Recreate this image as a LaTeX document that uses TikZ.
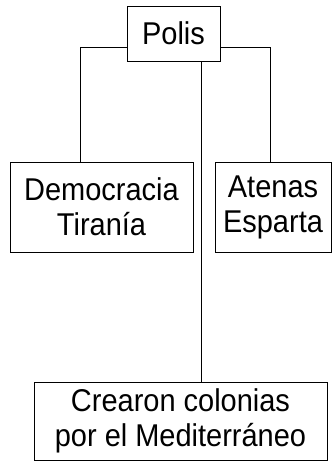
\documentclass[tikz,border=0pt]{standalone}
\usepackage{fontspec}
\setmainfont{Liberation Sans}[FakeStretch=0.92]
\usepackage{tikz}
\usetikzlibrary{calc}

\begin{document}
\begin{tikzpicture}[x=1pt,y=-1pt,
		box/.style={draw, line width=0.9pt, inner sep=0pt, align=center,
			font=\fontsize{31.5}{35}\selectfont},
		link/.style={line width=0.9pt}]
			\useasboundingbox (0,0) rectangle (332,463);

			\node [box, minimum width=93pt, minimum height=55pt] (polis) at (173.5,33.5) {Polis};
			\node [box, minimum width=183pt, minimum height=90pt] (democracia) at (101.5,207) {Democracia\\Tiranía};
			\node [box, minimum width=116pt, minimum height=90pt] (atenas) at (273,207) {Atenas\\Esparta};
			\node [box, minimum width=293pt, minimum height=78pt] (colonias) at (180.5,421) {Crearon colonias\\por el Mediterráneo};

			\begin{scope}[link]
				\draw ([yshift=-13.5pt]polis.west) -| ([xshift=-21.5pt]democracia.north);
				\draw ([yshift=-13.5pt]polis.east) -| ([xshift=-3pt]atenas.north);
				\draw ([xshift=27.5pt]polis.south) -- ([xshift=27.5pt]polis.south |- colonias.north);
			\end{scope}
		\end{tikzpicture}
\end{document}
